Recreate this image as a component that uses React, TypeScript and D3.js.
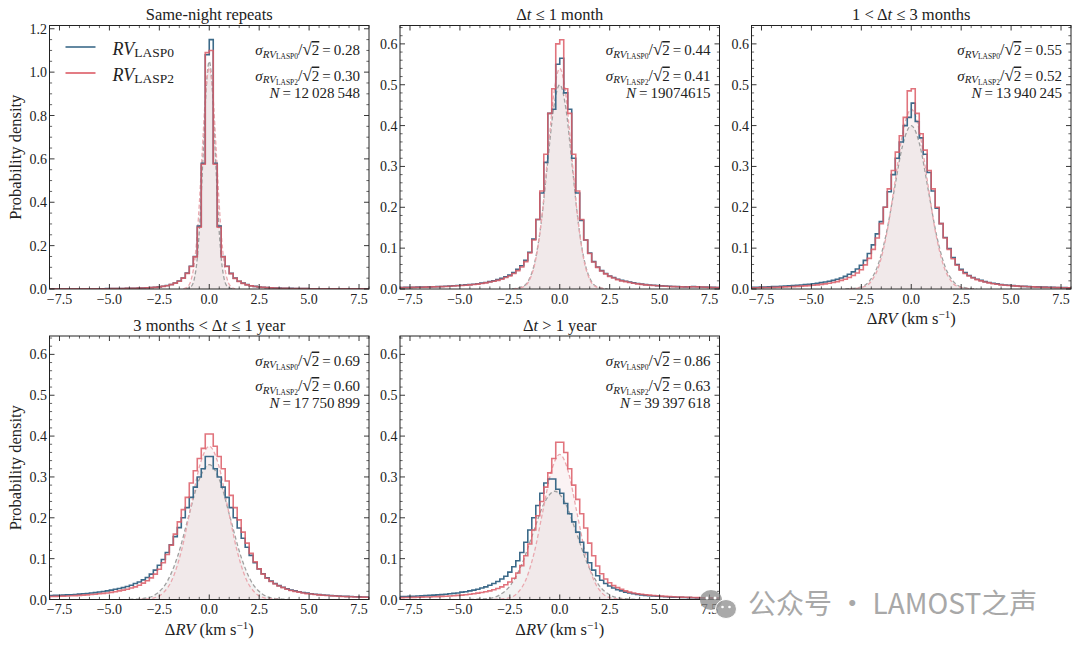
import React from 'react';
import * as d3 from 'd3';

// ---------- DATA ----------
// Histogram bin width (km/s); bins run outward from 0:
// "Pos" arrays: [0,0.2], [0.2,0.4], ... ; "Neg" arrays: [-0.2,0], [-0.4,-0.2], ...
const BIN = 0.2;

const panelTitles = ['Same-night repeats', 'Δt ≤ 1 month', '1 < Δt ≤ 3 months', '3 months < Δt ≤ 1 year', 'Δt > 1 year'];
const sigmaLASP0 = ['0.28', '0.44', '0.55', '0.69', '0.86'];
const sigmaLASP2 = ['0.30', '0.41', '0.52', '0.60', '0.63'];
const pairCounts = ['12\u2009028\u2009548', '19074615', '13\u2009940\u2009245', '17\u2009750\u2009899', '39\u2009397\u2009618'];
const xTicks = [-7.5, -5.0, -2.5, 0.0, 2.5, 5.0, 7.5];

// Same-night repeats
const sameNightLASP0Pos = [1.15, 0.58, 0.29, 0.15, 0.105, 0.072, 0.05, 0.036, 0.027, 0.02, 0.015, 0.012, 0.0095, 0.0078, 0.0065, 0.0055, 0.0047, 0.004, 0.0035, 0.003, 0.0027, 0.0024, 0.0021, 0.0019, 0.0017, 0.0015, 0.0014, 0.0013, 0.0012, 0.0011, 0.001, 0.0009, 0.0009, 0.0008, 0.0008, 0.0007, 0.0007, 0.0006, 0.0006, 0.0006];
const sameNightLASP0Neg = [1.08, 0.58, 0.29, 0.15, 0.105, 0.073, 0.051, 0.037, 0.028, 0.021, 0.016, 0.0125, 0.01, 0.008, 0.0067, 0.0057, 0.0048, 0.0041, 0.0036, 0.0031, 0.0028, 0.0025, 0.0022, 0.002, 0.0018, 0.0016, 0.0015, 0.0014, 0.0013, 0.0012, 0.0011, 0.001, 0.0009, 0.0009, 0.0008, 0.0008, 0.0007, 0.0007, 0.0007, 0.0006];
const sameNightLASP2Pos = [1.10, 0.575, 0.285, 0.148, 0.104, 0.071, 0.049, 0.035, 0.026, 0.019, 0.0145, 0.0115, 0.009, 0.0074, 0.0062, 0.0052, 0.0044, 0.0038, 0.0033, 0.0029, 0.0026, 0.0023, 0.002, 0.0018, 0.0016, 0.0014, 0.0013, 0.0012, 0.0011, 0.001, 0.0009, 0.0009, 0.0008, 0.0008, 0.0007, 0.0007, 0.0006, 0.0006, 0.0005, 0.0005];
const sameNightLASP2Neg = [1.09, 0.575, 0.285, 0.148, 0.104, 0.072, 0.05, 0.036, 0.027, 0.02, 0.015, 0.012, 0.0095, 0.0076, 0.0064, 0.0054, 0.0046, 0.0039, 0.0034, 0.003, 0.0027, 0.0024, 0.0021, 0.0019, 0.0017, 0.0015, 0.0014, 0.0013, 0.0012, 0.0011, 0.001, 0.0009, 0.0009, 0.0008, 0.0008, 0.0007, 0.0007, 0.0006, 0.0006, 0.0006];

// dt <= 1 month
const monthLASP0Pos = [0.565, 0.48, 0.44, 0.32, 0.235, 0.168, 0.12, 0.088, 0.067, 0.054, 0.045, 0.038, 0.032, 0.028, 0.024, 0.021, 0.019, 0.017, 0.015, 0.0133, 0.012, 0.0108, 0.0098, 0.009, 0.0083, 0.0077, 0.0071, 0.0066, 0.0062, 0.0058, 0.0055, 0.0053, 0.0055, 0.0058, 0.0055, 0.005, 0.0046, 0.0043, 0.004, 0.0038];
const monthLASP0Neg = [0.55, 0.44, 0.43, 0.31, 0.235, 0.17, 0.122, 0.09, 0.07, 0.057, 0.048, 0.04, 0.034, 0.03, 0.026, 0.023, 0.02, 0.018, 0.016, 0.0145, 0.013, 0.0118, 0.0108, 0.01, 0.0092, 0.0085, 0.0078, 0.0072, 0.0067, 0.0063, 0.0059, 0.0056, 0.0053, 0.005, 0.0047, 0.0045, 0.0043, 0.0041, 0.0039, 0.0037];
const monthLASP2Pos = [0.61, 0.49, 0.43, 0.33, 0.24, 0.17, 0.12, 0.087, 0.066, 0.053, 0.044, 0.037, 0.031, 0.027, 0.023, 0.02, 0.018, 0.016, 0.014, 0.0125, 0.0112, 0.01, 0.0092, 0.0085, 0.0078, 0.0072, 0.0067, 0.0062, 0.0058, 0.0055, 0.0052, 0.005, 0.0052, 0.0055, 0.0052, 0.0048, 0.0044, 0.0041, 0.0038, 0.0036];
const monthLASP2Neg = [0.60, 0.49, 0.43, 0.33, 0.24, 0.17, 0.12, 0.088, 0.067, 0.054, 0.045, 0.038, 0.032, 0.028, 0.024, 0.021, 0.019, 0.017, 0.015, 0.0135, 0.012, 0.011, 0.01, 0.0092, 0.0085, 0.0078, 0.0072, 0.0067, 0.0062, 0.0058, 0.0055, 0.0052, 0.0049, 0.0046, 0.0044, 0.0042, 0.004, 0.0038, 0.0036, 0.0035];

// 1 < dt <= 3 months
const quarterLASP0Pos = [0.455, 0.41, 0.37, 0.33, 0.285, 0.24, 0.198, 0.16, 0.126, 0.099, 0.077, 0.06, 0.048, 0.04, 0.033, 0.028, 0.024, 0.021, 0.018, 0.016, 0.014, 0.0125, 0.011, 0.0099, 0.009, 0.0082, 0.0075, 0.0069, 0.0064, 0.0059, 0.0055, 0.0051, 0.0048, 0.0045, 0.0042, 0.0039, 0.0037, 0.0035, 0.0033, 0.0031];
const quarterLASP0Neg = [0.42, 0.40, 0.36, 0.32, 0.28, 0.238, 0.2, 0.165, 0.135, 0.108, 0.087, 0.07, 0.058, 0.049, 0.042, 0.036, 0.031, 0.027, 0.024, 0.021, 0.019, 0.017, 0.0155, 0.014, 0.0128, 0.0117, 0.0107, 0.0098, 0.009, 0.0083, 0.0077, 0.0071, 0.0066, 0.0061, 0.0057, 0.0053, 0.005, 0.0047, 0.0044, 0.0042];
const quarterLASP2Pos = [0.49, 0.43, 0.38, 0.34, 0.29, 0.245, 0.2, 0.16, 0.125, 0.097, 0.074, 0.058, 0.046, 0.038, 0.032, 0.027, 0.023, 0.02, 0.017, 0.015, 0.013, 0.0115, 0.0102, 0.0092, 0.0084, 0.0077, 0.0071, 0.0065, 0.006, 0.0055, 0.0051, 0.0047, 0.0044, 0.0041, 0.0038, 0.0036, 0.0034, 0.0032, 0.003, 0.0028];
const quarterLASP2Neg = [0.485, 0.42, 0.375, 0.335, 0.29, 0.245, 0.2, 0.16, 0.125, 0.097, 0.075, 0.059, 0.047, 0.039, 0.033, 0.028, 0.024, 0.021, 0.018, 0.016, 0.014, 0.0125, 0.0112, 0.01, 0.0091, 0.0083, 0.0076, 0.007, 0.0064, 0.0059, 0.0055, 0.0051, 0.0047, 0.0044, 0.0041, 0.0038, 0.0036, 0.0034, 0.0032, 0.003];

// 3 months < dt <= 1 year
const yearLASP0Pos = [0.35, 0.32, 0.3, 0.275, 0.25, 0.225, 0.2, 0.175, 0.15, 0.128, 0.108, 0.09, 0.075, 0.063, 0.053, 0.045, 0.039, 0.034, 0.03, 0.026, 0.023, 0.021, 0.019, 0.017, 0.0155, 0.0142, 0.013, 0.012, 0.0111, 0.0103, 0.0096, 0.009, 0.0085, 0.008, 0.0076, 0.0072, 0.0068, 0.0065, 0.0062, 0.006];
const yearLASP0Neg = [0.35, 0.32, 0.30, 0.275, 0.25, 0.225, 0.2, 0.176, 0.154, 0.134, 0.115, 0.098, 0.084, 0.072, 0.062, 0.054, 0.048, 0.043, 0.039, 0.035, 0.032, 0.029, 0.027, 0.025, 0.023, 0.0212, 0.0196, 0.0182, 0.0169, 0.0158, 0.0148, 0.0139, 0.0131, 0.0124, 0.0118, 0.0113, 0.0108, 0.0104, 0.01, 0.0097];
const yearLASP2Pos = [0.405, 0.375, 0.35, 0.32, 0.29, 0.255, 0.225, 0.195, 0.165, 0.138, 0.113, 0.092, 0.075, 0.062, 0.052, 0.044, 0.038, 0.033, 0.029, 0.025, 0.022, 0.02, 0.018, 0.016, 0.0145, 0.0133, 0.0122, 0.0112, 0.0104, 0.0097, 0.009, 0.0084, 0.0079, 0.0074, 0.007, 0.0066, 0.0063, 0.006, 0.0057, 0.0055];
const yearLASP2Neg = [0.405, 0.37, 0.345, 0.315, 0.285, 0.25, 0.22, 0.19, 0.16, 0.133, 0.11, 0.09, 0.074, 0.062, 0.053, 0.046, 0.04, 0.035, 0.031, 0.028, 0.025, 0.023, 0.021, 0.019, 0.0175, 0.016, 0.015, 0.014, 0.013, 0.0122, 0.0114, 0.0107, 0.01, 0.0095, 0.009, 0.0086, 0.0082, 0.0079, 0.0076, 0.0074];

// dt > 1 year
const longLASP0Pos = [0.26, 0.235, 0.21, 0.19, 0.165, 0.14, 0.115, 0.09, 0.072, 0.058, 0.047, 0.039, 0.033, 0.028, 0.024, 0.021, 0.018, 0.016, 0.014, 0.0125, 0.0113, 0.0102, 0.0093, 0.0085, 0.0078, 0.0072, 0.0067, 0.0062, 0.0058, 0.0054, 0.0051, 0.0048, 0.0045, 0.0043, 0.0041, 0.0039, 0.0037, 0.0035, 0.0034, 0.0032];
const longLASP0Neg = [0.27, 0.295, 0.295, 0.285, 0.26, 0.23, 0.2, 0.17, 0.14, 0.115, 0.095, 0.08, 0.067, 0.057, 0.05, 0.044, 0.039, 0.035, 0.031, 0.028, 0.025, 0.023, 0.021, 0.019, 0.018, 0.016, 0.015, 0.014, 0.013, 0.012, 0.0113, 0.0106, 0.01, 0.0094, 0.0089, 0.0084, 0.008, 0.0076, 0.0073, 0.007];
const longLASP2Pos = [0.385, 0.36, 0.32, 0.28, 0.245, 0.21, 0.175, 0.138, 0.107, 0.082, 0.063, 0.05, 0.041, 0.034, 0.029, 0.025, 0.021, 0.018, 0.016, 0.014, 0.0128, 0.0117, 0.0107, 0.0098, 0.009, 0.0083, 0.0077, 0.0071, 0.0066, 0.0062, 0.0058, 0.0054, 0.0051, 0.0048, 0.0045, 0.0043, 0.0041, 0.0039, 0.0037, 0.0035];
const longLASP2Neg = [0.385, 0.345, 0.31, 0.275, 0.24, 0.205, 0.17, 0.136, 0.107, 0.083, 0.065, 0.052, 0.043, 0.036, 0.031, 0.027, 0.024, 0.021, 0.019, 0.017, 0.0155, 0.014, 0.0128, 0.0117, 0.0108, 0.01, 0.0093, 0.0087, 0.0081, 0.0076, 0.0071, 0.0067, 0.0063, 0.006, 0.0057, 0.0054, 0.0052, 0.005, 0.0048, 0.0046];

// Dashed reference curves: x positions and densities
const sameNightFit0X = [-1.2, -0.9, -0.75, -0.6, -0.45, -0.3, -0.15, 0, 0.15, 0.3, 0.45, 0.6, 0.75, 0.9, 1.2];
const sameNightFit0Y = [0.0004, 0.012, 0.046, 0.142, 0.341, 0.637, 0.927, 1.05, 0.927, 0.637, 0.341, 0.142, 0.046, 0.012, 0.0004];
const sameNightFit2X = [-1.3, -1.08, -0.9, -0.72, -0.54, -0.36, -0.18, 0, 0.18, 0.36, 0.54, 0.72, 0.9, 1.08, 1.3];
const sameNightFit2Y = [0.0008, 0.0113, 0.0448, 0.138, 0.331, 0.619, 0.9, 1.02, 0.9, 0.619, 0.331, 0.138, 0.0448, 0.0113, 0.0008];
const monthFit0X = [-2.4, -1.86, -1.55, -1.24, -0.93, -0.62, -0.31, 0, 0.31, 0.62, 0.93, 1.24, 1.55, 1.86, 2.4];
const monthFit0Y = [0.0003, 0.0056, 0.022, 0.068, 0.162, 0.303, 0.441, 0.5, 0.441, 0.303, 0.162, 0.068, 0.022, 0.0056, 0.0003];
const monthFit2X = [-2.3, -1.8, -1.5, -1.2, -0.9, -0.6, -0.3, 0, 0.3, 0.6, 0.9, 1.2, 1.5, 1.8, 2.3];
const monthFit2Y = [0.0004, 0.006, 0.0237, 0.0731, 0.175, 0.3275, 0.4766, 0.54, 0.4766, 0.3275, 0.175, 0.0731, 0.0237, 0.006, 0.0004];
const quarterFit0X = [-3.3, -2.55, -2.125, -1.7, -1.275, -0.85, -0.425, 0, 0.425, 0.85, 1.275, 1.7, 2.125, 2.55, 3.3];
const quarterFit0Y = [0.0002, 0.0044, 0.0176, 0.0541, 0.13, 0.2426, 0.353, 0.4, 0.353, 0.2426, 0.13, 0.0541, 0.0176, 0.0044, 0.0002];
const quarterFit2X = [-3.1, -2.4, -2.0, -1.6, -1.2, -0.8, -0.4, 0, 0.4, 0.8, 1.2, 1.6, 2.0, 2.4, 3.1];
const quarterFit2Y = [0.0002, 0.0049, 0.0193, 0.0595, 0.1429, 0.2669, 0.3883, 0.44, 0.3883, 0.2669, 0.1429, 0.0595, 0.0193, 0.0049, 0.0002];
const yearFit0X = [-4.0, -3.15, -2.625, -2.1, -1.575, -1.05, -0.525, 0, 0.525, 1.05, 1.575, 2.1, 2.625, 3.15, 4.0];
const yearFit0Y = [0.0002, 0.0037, 0.0145, 0.0446, 0.1072, 0.2001, 0.2912, 0.33, 0.2912, 0.2001, 0.1072, 0.0446, 0.0145, 0.0037, 0.0002];
const yearFit2X = [-3.5, -2.76, -2.3, -1.84, -1.38, -0.92, -0.46, 0, 0.46, 0.92, 1.38, 1.84, 2.3, 2.76, 3.5];
const yearFit2Y = [0.0002, 0.0042, 0.0165, 0.0507, 0.1218, 0.2274, 0.3309, 0.375, 0.3309, 0.2274, 0.1218, 0.0507, 0.0165, 0.0042, 0.0002];
const longFit0X = [-4.5, -3.55, -3.0, -2.45, -1.9, -1.35, -0.8, -0.25, 0.3, 0.85, 1.4, 1.95, 2.5, 3.05, 4.0];
const longFit0Y = [0.0002, 0.0029, 0.0116, 0.0359, 0.086, 0.1607, 0.2339, 0.265, 0.2339, 0.1607, 0.086, 0.0359, 0.0116, 0.0029, 0.0002];
const longFit2X = [-3.3, -2.55, -2.125, -1.7, -1.275, -0.85, -0.425, 0, 0.425, 0.85, 1.275, 1.7, 2.125, 2.55, 3.3];
const longFit2Y = [0.0002, 0.0039, 0.0156, 0.048, 0.1153, 0.2153, 0.3133, 0.355, 0.3133, 0.2153, 0.1153, 0.048, 0.0156, 0.0039, 0.0002];

// ---------- STYLE / LAYOUT ----------
const W = 1080, H = 648;
const PW = 319.5, PH = 263.5;
const COLS = [49.5, 400, 751.5];
const ROWS = [25.5, 336];
const BLUE = '#3c6a89';
const RED = '#dc5c66';
const SERIF = '"Liberation Serif", "Times New Roman", Times, serif';
const INK = '#222';

type Hist = { pos: number[]; neg: number[] };
type Fit = { xs: number[]; ys: number[] };
type PanelDef = {
  col: number; row: number; yMax: number; yMajor: number[]; yMinorStep: number;
  lasp0: Hist; lasp2: Hist; fit0: Fit; fit2: Fit; idx: number;
  xlabel: boolean; ylabel: boolean; legend: boolean;
};

const majorsSmall = [0, 0.1, 0.2, 0.3, 0.4, 0.5, 0.6];
const majorsBig = [0, 0.2, 0.4, 0.6, 0.8, 1.0, 1.2];

const panels: PanelDef[] = [
  { idx: 0, col: 0, row: 0, yMax: 1.215, yMajor: majorsBig, yMinorStep: 0.05,
    lasp0: { pos: sameNightLASP0Pos, neg: sameNightLASP0Neg }, lasp2: { pos: sameNightLASP2Pos, neg: sameNightLASP2Neg },
    fit0: { xs: sameNightFit0X, ys: sameNightFit0Y }, fit2: { xs: sameNightFit2X, ys: sameNightFit2Y },
    xlabel: false, ylabel: true, legend: true },
  { idx: 1, col: 1, row: 0, yMax: 0.645, yMajor: majorsSmall, yMinorStep: 0.02,
    lasp0: { pos: monthLASP0Pos, neg: monthLASP0Neg }, lasp2: { pos: monthLASP2Pos, neg: monthLASP2Neg },
    fit0: { xs: monthFit0X, ys: monthFit0Y }, fit2: { xs: monthFit2X, ys: monthFit2Y },
    xlabel: false, ylabel: false, legend: false },
  { idx: 2, col: 2, row: 0, yMax: 0.645, yMajor: majorsSmall, yMinorStep: 0.02,
    lasp0: { pos: quarterLASP0Pos, neg: quarterLASP0Neg }, lasp2: { pos: quarterLASP2Pos, neg: quarterLASP2Neg },
    fit0: { xs: quarterFit0X, ys: quarterFit0Y }, fit2: { xs: quarterFit2X, ys: quarterFit2Y },
    xlabel: true, ylabel: false, legend: false },
  { idx: 3, col: 0, row: 1, yMax: 0.645, yMajor: majorsSmall, yMinorStep: 0.02,
    lasp0: { pos: yearLASP0Pos, neg: yearLASP0Neg }, lasp2: { pos: yearLASP2Pos, neg: yearLASP2Neg },
    fit0: { xs: yearFit0X, ys: yearFit0Y }, fit2: { xs: yearFit2X, ys: yearFit2Y },
    xlabel: true, ylabel: true, legend: false },
  { idx: 4, col: 1, row: 1, yMax: 0.645, yMajor: majorsSmall, yMinorStep: 0.02,
    lasp0: { pos: longLASP0Pos, neg: longLASP0Neg }, lasp2: { pos: longLASP2Pos, neg: longLASP2Neg },
    fit0: { xs: longFit0X, ys: longFit0Y }, fit2: { xs: longFit2X, ys: longFit2Y },
    xlabel: true, ylabel: false, legend: false },
];

function histPath(h: Hist, x: d3.ScaleLinear<number, number>, y: d3.ScaleLinear<number, number>) {
  const pts: [number, number][] = [];
  const n = h.neg.length;
  pts.push([x(-n * BIN), y(0)]);
  for (let i = n - 1; i >= 0; i--) {
    pts.push([x(-(i + 1) * BIN), y(h.neg[i])], [x(-i * BIN), y(h.neg[i])]);
  }
  for (let i = 0; i < h.pos.length; i++) {
    pts.push([x(i * BIN), y(h.pos[i])], [x((i + 1) * BIN), y(h.pos[i])]);
  }
  pts.push([x(h.pos.length * BIN), y(0)]);
  return d3.line()(pts) || '';
}

function Title({ i }: { i: number }) {
  const it = { fontStyle: 'italic' as const };
  if (i === 0) return <>{panelTitles[0]}</>;
  if (i === 1) return <><tspan>Δ</tspan><tspan style={it}>t</tspan><tspan> ≤ 1 month</tspan></>;
  if (i === 2) return <><tspan>1 &lt; Δ</tspan><tspan style={it}>t</tspan><tspan> ≤ 3 months</tspan></>;
  if (i === 3) return <><tspan>3 months &lt; Δ</tspan><tspan style={it}>t</tspan><tspan> ≤ 1 year</tspan></>;
  return <><tspan>Δ</tspan><tspan style={it}>t</tspan><tspan> &gt; 1 year</tspan></>;
}

function SigmaLine({ x, y, sub, value }: { x: number; y: number; sub: string; value: string }) {
  return (
    <text x={x} y={y} textAnchor="end" fontFamily={SERIF} fontSize={15} fill={INK}>
      <tspan fontStyle="italic">σ</tspan>
      <tspan fontStyle="italic" fontSize={11} dy={2.5}>RV</tspan>
      <tspan fontSize={7.5} dy={1.5}>{sub}</tspan>
      <tspan dy={-4} fontSize={16}>/</tspan>
      <tspan fontSize={17}>√</tspan>
      <tspan style={{ textDecoration: 'overline' }}>2</tspan>
      <tspan>{'\u2009=\u2009' + value}</tspan>
    </text>
  );
}

function Panel({ p }: { p: PanelDef }) {
  const left = COLS[p.col], top = ROWS[p.row];
  const right = left + PW, bottom = top + PH;
  const x = d3.scaleLinear().domain([-8, 8]).range([left, right]);
  const y = d3.scaleLinear().domain([0, p.yMax]).range([bottom, top]);
  const clipId = `clip${p.idx}`;
  const lineGen = (f: Fit) => d3.line<number>().x((_, i) => x(f.xs[i])).y((d) => y(d)).curve(d3.curveMonotoneX)(f.ys) || '';
  const areaGen = (f: Fit) => d3.area<number>().x((_, i) => x(f.xs[i])).y0(y(0)).y1((d) => y(d)).curve(d3.curveMonotoneX)(f.ys) || '';

  const xMinor = d3.range(-8, 8.001, 0.5).filter((v) => !xTicks.some((t) => Math.abs(t - v) < 1e-6));
  const yMinor = d3.range(0, p.yMax, p.yMinorStep).filter((v) => !p.yMajor.some((t) => Math.abs(t - v) < 1e-6));
  const ML = 5, mL = 2.6;

  return (
    <g>
      <defs>
        <clipPath id={clipId}><rect x={left} y={top} width={PW} height={PH} /></clipPath>
      </defs>
      <g clipPath={`url(#${clipId})`}>
        <path d={areaGen(p.fit0)} fill="#cccccc" fillOpacity={0.25} />
        <path d={areaGen(p.fit2)} fill="#efc9ce" fillOpacity={0.22} />
        <path d={lineGen(p.fit0)} fill="none" stroke="#a0a0a0" strokeWidth={1.3} strokeDasharray="4,2.5" />
        <path d={lineGen(p.fit2)} fill="none" stroke="#eaa8af" strokeWidth={1.3} strokeDasharray="4,2.5" />
        <path d={histPath(p.lasp0, x, y)} fill="none" stroke={BLUE} strokeWidth={1.6} />
        <path d={histPath(p.lasp2, x, y)} fill="none" stroke={RED} strokeWidth={1.6} strokeOpacity={0.85} />
      </g>
      <rect x={left} y={top} width={PW} height={PH} fill="none" stroke={INK} strokeWidth={1} />
      {xTicks.map((t) => (
        <g key={`xt${t}`}>
          <line x1={x(t)} x2={x(t)} y1={bottom} y2={bottom - ML} stroke={INK} strokeWidth={0.9} />
          <line x1={x(t)} x2={x(t)} y1={top} y2={top + ML} stroke={INK} strokeWidth={0.9} />
          <text x={x(t)} y={bottom + 14.5} textAnchor="middle" fontFamily={SERIF} fontSize={14} fill={INK}>
            {(t < 0 ? '\u2212' : '') + Math.abs(t).toFixed(1)}
          </text>
        </g>
      ))}
      {xMinor.map((t) => (
        <g key={`xm${t}`}>
          <line x1={x(t)} x2={x(t)} y1={bottom} y2={bottom - mL} stroke={INK} strokeWidth={0.7} />
          <line x1={x(t)} x2={x(t)} y1={top} y2={top + mL} stroke={INK} strokeWidth={0.7} />
        </g>
      ))}
      {p.yMajor.map((t) => (
        <g key={`yt${t}`}>
          <line x1={left} x2={left + ML} y1={y(t)} y2={y(t)} stroke={INK} strokeWidth={0.9} />
          <line x1={right} x2={right - ML} y1={y(t)} y2={y(t)} stroke={INK} strokeWidth={0.9} />
          <text x={left - 2.5} y={y(t) + 5} textAnchor="end" fontFamily={SERIF} fontSize={14} fill={INK}>
            {t.toFixed(1)}
          </text>
        </g>
      ))}
      {yMinor.map((t) => (
        <g key={`ym${t}`}>
          <line x1={left} x2={left + mL} y1={y(t)} y2={y(t)} stroke={INK} strokeWidth={0.7} />
          <line x1={right} x2={right - mL} y1={y(t)} y2={y(t)} stroke={INK} strokeWidth={0.7} />
        </g>
      ))}
      <text x={(left + right) / 2} y={top - 5.5} textAnchor="middle" fontFamily={SERIF} fontSize={16.5} fill={INK}>
        <Title i={p.idx} />
      </text>
      <SigmaLine x={right - 9} y={top + 29.5} sub="LASP0" value={sigmaLASP0[p.idx]} />
      <SigmaLine x={right - 9} y={top + 55} sub="LASP2" value={sigmaLASP2[p.idx]} />
      <text x={right - 9} y={top + 72} textAnchor="end" fontFamily={SERIF} fontSize={15} fill={INK}>
        <tspan fontStyle="italic">N</tspan>
        <tspan>{'\u2009=\u2009' + pairCounts[p.idx]}</tspan>
      </text>
      {p.legend && (
        <g>
          <line x1={left + 16} x2={left + 46} y1={top + 21.5} y2={top + 21.5} stroke={BLUE} strokeWidth={1.6} />
          <line x1={left + 16} x2={left + 46} y1={top + 47.5} y2={top + 47.5} stroke={RED} strokeWidth={1.6} />
          <text x={left + 63} y={top + 29} fontFamily={SERIF} fontSize={18} fill={INK}>
            <tspan fontStyle="italic">RV</tspan>
            <tspan fontSize={13.5} dy={2}>LASP0</tspan>
          </text>
          <text x={left + 63} y={top + 55} fontFamily={SERIF} fontSize={18} fill={INK}>
            <tspan fontStyle="italic">RV</tspan>
            <tspan fontSize={13.5} dy={2}>LASP2</tspan>
          </text>
        </g>
      )}
      {p.xlabel && (
        <text x={(left + right) / 2} y={bottom + 35} textAnchor="middle" fontFamily={SERIF} fontSize={16.5} fill={INK}>
          <tspan>Δ</tspan><tspan fontStyle="italic">RV</tspan><tspan> (km s</tspan>
          <tspan fontSize={11} dy={-6}>−1</tspan><tspan dy={6}>)</tspan>
        </text>
      )}
      {p.ylabel && (
        <text transform={`translate(${15},${(top + bottom) / 2}) rotate(-90)`} textAnchor="middle"
          dominantBaseline="central" fontFamily={SERIF} fontSize={16.5} fill={INK}>
          Probability density
        </text>
      )}
    </g>
  );
}

function Watermark() {
  return (
    <g>
      <ellipse cx={711} cy={600} rx={11} ry={10} fill="#8a8a8a" fillOpacity={0.75} />
      <ellipse cx={726} cy={609} rx={10.5} ry={9.5} fill="#9a9a9a" fillOpacity={0.85} stroke="#fff" strokeWidth={1} />
      <circle cx={707} cy={598} r={1.5} fill="#fff" />
      <circle cx={715} cy={598} r={1.5} fill="#fff" />
      <circle cx={722.5} cy={607} r={1.3} fill="#fff" />
      <circle cx={729.5} cy={607} r={1.3} fill="#fff" />
      <text x={748} y={614} fontFamily='"Noto Sans CJK SC", "Noto Sans", sans-serif' fontSize={28} fill="#a8a8a8">
        公众号 · LAMOST之声
      </text>
    </g>
  );
}

export default function App() {
  return (
    <svg width={W} height={H} viewBox={`0 0 ${W} ${H}`}
      style={{ position: 'absolute', left: 0, top: 0, background: '#fff' }}>
      <rect x={0} y={0} width={W} height={H} fill="#fff" />
      {panels.map((p) => <Panel key={p.idx} p={p} />)}
      <Watermark />
    </svg>
  );
}
